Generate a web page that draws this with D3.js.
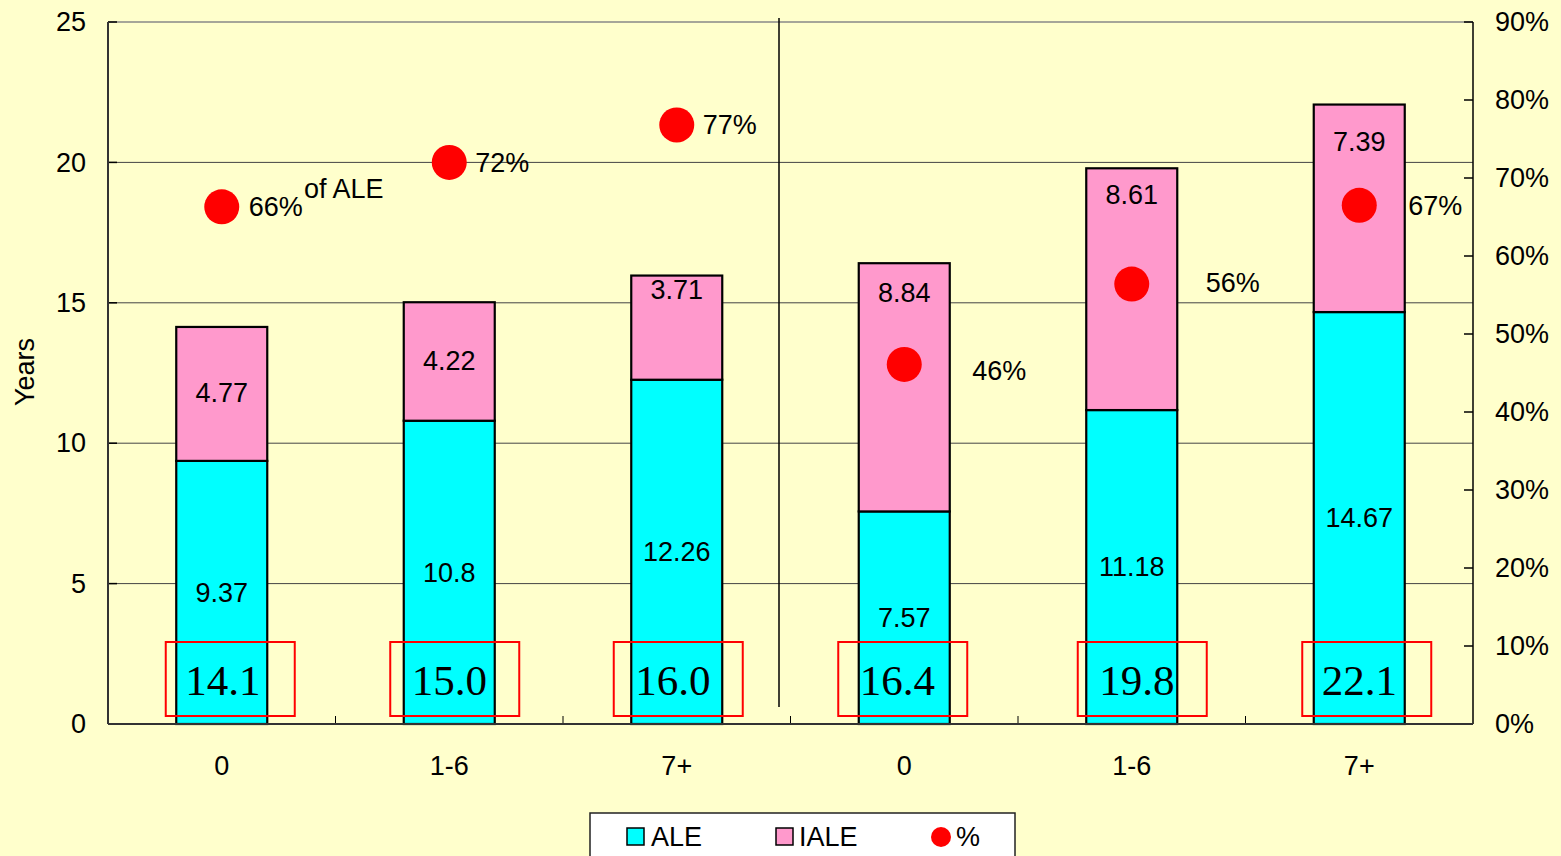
<html>
<head>
<meta charset="utf-8">
<script src="https://cdn.jsdelivr.net/npm/d3@7"></script>
<style>
  body { margin: 0; background: #FFFFCC; }
  svg text { font-family: "Liberation Sans", Arial, sans-serif; }
</style>
</head>
<body>
<svg id="chart" width="1561" height="856"></svg>
<script>
// data
var categories = ["0", "1-6", "7+", "0", "1-6", "7+"];
var aleValues  = [9.37, 10.8, 12.26, 7.57, 11.18, 14.67];
var ialeValues = [4.77, 4.22, 3.71, 8.84, 8.61, 7.39];
var totalLabels = ["14.1", "15.0", "16.0", "16.4", "19.8", "22.1"];
var pctValues  = [66.3, 72.0, 76.8, 46.1, 56.4, 66.5];
var pctLabels  = ["66%", "72%", "77%", "46%", "56%", "67%"];
// where the IALE labels sit, in years (some were moved toward the top in the original)
var ialeLabelAt = [11.79, 12.93, 15.46, 15.35, 18.84, 20.76];
var yearTicks = [0, 5, 10, 15, 20, 25];
var pctTicks  = [0, 10, 20, 30, 40, 50, 60, 70, 80, 90];

// hand nudges (px) -- the boxes and % labels were placed by hand in the original
var pctDx = [27, 26, 26, 68, 74, 49];
var pctDy = [0, 0, 0, 6, -2, 0];
var boxDx = [-56, -59, -63, -66, -54, -57];
var totDx = [1, 0, -4, -7, 5, 0];

var svg = d3.select("#chart");
var pL = 108, pR = 1473, pT = 22, pB = 724;

var x = d3.scaleBand().domain(d3.range(categories.length)).range([pL, pR]);
var y = d3.scaleLinear().domain([0, 25]).range([pB, pT]);
var y2 = d3.scaleLinear().domain([0, 90]).range([pB, pT]);

var barW = x.bandwidth() * 0.4;
function cx(i) { return x(i) + x.bandwidth() / 2; }

// plot area
svg.append("rect").attr("x", pL).attr("y", pT).attr("width", pR - pL).attr("height", pB - pT)
  .attr("fill", "#FFFFCC");

// gridlines
svg.selectAll(".grid").data(yearTicks.filter(function(d){ return d > 0; })).enter()
  .append("line")
  .attr("x1", pL).attr("x2", pR)
  .attr("y1", function(d){ return y(d); }).attr("y2", function(d){ return y(d); })
  .attr("stroke", function(d){ return d == 25 ? "#888" : "#444"; })
  .attr("stroke-width", function(d){ return d == 25 ? 1.5 : 1; });

// vertical divider between the two groups
svg.append("line").attr("x1", 779).attr("x2", 779).attr("y1", 18).attr("y2", 707)
  .attr("stroke", "#000").attr("stroke-width", 1.5);

// stacked bars
svg.selectAll(".ale").data(aleValues).enter().append("rect")
  .attr("x", function(d, i){ return cx(i) - barW / 2; })
  .attr("y", function(d){ return y(d); })
  .attr("width", barW)
  .attr("height", function(d){ return y(0) - y(d); })
  .attr("fill", "#00FFFF").attr("stroke", "#000").attr("stroke-width", 2.2);

svg.selectAll(".iale").data(ialeValues).enter().append("rect")
  .attr("x", function(d, i){ return cx(i) - barW / 2; })
  .attr("y", function(d, i){ return y(aleValues[i] + d); })
  .attr("width", barW)
  .attr("height", function(d, i){ return y(aleValues[i]) - y(aleValues[i] + d); })
  .attr("fill", "#FF99CC").attr("stroke", "#000").attr("stroke-width", 2.2);

// bar value labels
svg.selectAll(".aleLbl").data(aleValues).enter().append("text")
  .attr("x", function(d, i){ return cx(i); })
  .attr("y", function(d){ return y(d / 2); })
  .attr("dy", "0.35em").attr("text-anchor", "middle").attr("font-size", 27)
  .text(function(d){ return d; });

svg.selectAll(".ialeLbl").data(ialeValues).enter().append("text")
  .attr("x", function(d, i){ return cx(i); })
  .attr("y", function(d, i){ return y(ialeLabelAt[i]); })
  .attr("dy", "0.35em").attr("text-anchor", "middle").attr("font-size", 27)
  .text(function(d){ return d; });

// total boxes
svg.selectAll(".totBox").data(totalLabels).enter().append("rect")
  .attr("x", function(d, i){ return cx(i) + boxDx[i]; })
  .attr("y", y(0) - 82)
  .attr("width", 129).attr("height", 74)
  .attr("fill", "none").attr("stroke", "#FF0000").attr("stroke-width", 2);

svg.selectAll(".tot").data(totalLabels).enter().append("text")
  .attr("x", function(d, i){ return cx(i) + totDx[i]; })
  .attr("y", y(0) - 29)
  .attr("text-anchor", "middle")
  .style("font-family", "'Liberation Serif', 'Times New Roman', serif")
  .attr("font-size", 43)
  .text(function(d){ return d; });

// percent dots
svg.selectAll(".dot").data(pctValues).enter().append("circle")
  .attr("cx", function(d, i){ return cx(i); })
  .attr("cy", function(d){ return y2(d); })
  .attr("r", 17.5).attr("fill", "#FF0000");

svg.selectAll(".pctLbl").data(pctLabels).enter().append("text")
  .attr("x", function(d, i){ return cx(i) + pctDx[i]; })
  .attr("y", function(d, i){ return y2(pctValues[i]) + pctDy[i]; })
  .attr("dy", "0.35em").attr("font-size", 27)
  .text(function(d){ return d; });

svg.append("text").attr("x", 304).attr("y", 198).attr("font-size", 27).text("of ALE");

// axes
var yAxis = d3.axisLeft(y).tickValues(yearTicks).tickSize(0).tickPadding(22);
var gy = svg.append("g").attr("transform", "translate(" + pL + ",0)").call(yAxis);
gy.select(".domain").remove();
gy.selectAll("text").attr("font-size", 27).style("font-family", "'Liberation Sans', Arial, sans-serif");

svg.selectAll(".ytick").data(yearTicks).enter().append("line")
  .attr("x1", pL).attr("x2", pL + 9)
  .attr("y1", function(d){ return y(d); }).attr("y2", function(d){ return y(d); })
  .attr("stroke", "#000").attr("stroke-width", 1.5);

var y2Axis = d3.axisRight(y2).tickValues(pctTicks).tickSize(0).tickPadding(22)
  .tickFormat(function(d){ return d + "%"; });
var gy2 = svg.append("g").attr("transform", "translate(" + pR + ",0)").call(y2Axis);
gy2.select(".domain").remove();
gy2.selectAll("text").attr("font-size", 27).style("font-family", "'Liberation Sans', Arial, sans-serif");

svg.selectAll(".y2tick").data(pctTicks).enter().append("line")
  .attr("x1", pR - 9).attr("x2", pR)
  .attr("y1", function(d){ return y2(d); }).attr("y2", function(d){ return y2(d); })
  .attr("stroke", "#000").attr("stroke-width", 1.5);

var xAxis = d3.axisBottom(x).tickSize(0).tickPadding(32)
  .tickFormat(function(i){ return categories[i]; });
var gx = svg.append("g").attr("transform", "translate(0," + pB + ")").call(xAxis);
gx.select(".domain").remove();
gx.selectAll("text").attr("font-size", 27).style("font-family", "'Liberation Sans', Arial, sans-serif");

svg.selectAll(".xtick").data(d3.range(1, categories.length)).enter().append("line")
  .attr("x1", function(i){ return x(i); }).attr("x2", function(i){ return x(i); })
  .attr("y1", pB - 8).attr("y2", pB)
  .attr("stroke", "#000").attr("stroke-width", 1);

// axis lines
svg.append("line").attr("x1", pL).attr("x2", pL).attr("y1", pT).attr("y2", pB)
  .attr("stroke", "#333").attr("stroke-width", 2);
svg.append("line").attr("x1", pR).attr("x2", pR).attr("y1", pT).attr("y2", pB)
  .attr("stroke", "#000").attr("stroke-width", 1.5);
svg.append("line").attr("x1", pL).attr("x2", pR).attr("y1", pB).attr("y2", pB)
  .attr("stroke", "#333").attr("stroke-width", 2);

svg.append("text")
  .attr("transform", "translate(34,372) rotate(-90)")
  .attr("text-anchor", "middle").attr("font-size", 27).text("Years");

// legend
var lg = svg.append("g");
lg.append("rect").attr("x", 590).attr("y", 813).attr("width", 425).attr("height", 60)
  .attr("fill", "#fff").attr("stroke", "#222").attr("stroke-width", 1.5);
lg.append("rect").attr("x", 627).attr("y", 828).attr("width", 17).attr("height", 17)
  .attr("fill", "#00FFFF").attr("stroke", "#000").attr("stroke-width", 1.5);
lg.append("text").attr("x", 651).attr("y", 846).attr("font-size", 27).text("ALE");
lg.append("rect").attr("x", 776).attr("y", 828).attr("width", 17).attr("height", 17)
  .attr("fill", "#FF99CC").attr("stroke", "#000").attr("stroke-width", 1.5);
lg.append("text").attr("x", 799).attr("y", 846).attr("font-size", 27).text("IALE");
lg.append("circle").attr("cx", 941).attr("cy", 837).attr("r", 10).attr("fill", "#FF0000");
lg.append("text").attr("x", 956).attr("y", 846).attr("font-size", 27).text("%");
</script>
</body>
</html>
